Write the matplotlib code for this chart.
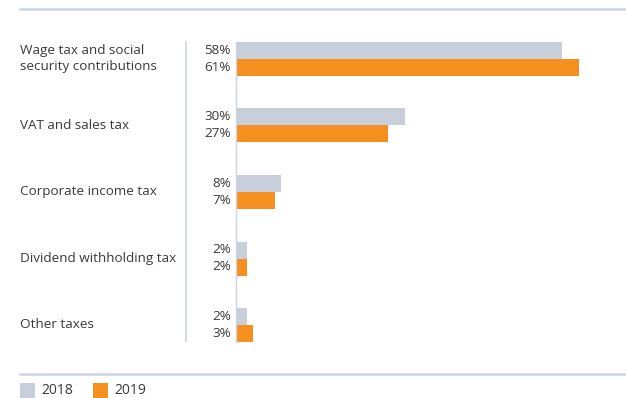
import matplotlib.pyplot as plt
from matplotlib.transforms import blended_transform_factory
from matplotlib.patches import Rectangle
from matplotlib.lines import Line2D

plt.rcParams['font.family'] = ['Open Sans', 'DejaVu Sans']

categories = ["Wage tax and social\nsecurity contributions", "VAT and sales tax",
              "Corporate income tax", "Dividend withholding tax", "Other taxes"]
share_2018 = [58, 30, 8, 2, 2]
share_2019 = [61, 27, 7, 2, 3]
years = ["2018", "2019"]

grey = "#c8cfdb"
orange = "#f58f1f"
rule = "#ccd4e1"
text_col = "#3a3a3a"

W, H = 626, 398
fig = plt.figure(figsize=(W / 100, H / 100), dpi=100)

# bar panel: zero line at x=236 px, rows from y=42 to y=342 px
ax = fig.add_axes([236 / W, 1 - 342 / H, (W - 236) / W, 300 / H])
bh = 17 / 66.5
ypos = list(range(len(categories)))
ax.barh([y - bh / 2 for y in ypos], share_2018, height=bh, color=grey)
ax.barh([y + bh / 2 for y in ypos], share_2019, height=bh, color=orange)
ax.set_xlim(0, (W - 236) / 5.62)
ax.set_ylim(4 + bh, -bh)
for s in ["top", "right", "bottom"]:
    ax.spines[s].set_visible(False)
ax.spines["left"].set_color(rule)
ax.spines["left"].set_linewidth(1)
ax.set_xticks([])
ax.set_yticks([])

fs = 9.7
tr = blended_transform_factory(fig.transFigure, ax.transData)
for y, cat, a, b in zip(ypos, categories, share_2018, share_2019):
    ax.text(20 / W, y, cat, transform=tr, ha="left", va="center",
            fontsize=fs, color=text_col, linespacing=1.3)
    ax.text(231 / W, y - bh / 2, f"{a}%", transform=tr, ha="right", va="center",
            fontsize=fs, color=text_col)
    ax.text(231 / W, y + bh / 2, f"{b}%", transform=tr, ha="right", va="center",
            fontsize=fs, color=text_col)

# divider between labels and bars
fig.add_artist(Line2D([186 / W, 186 / W], [1 - 42 / H, 1 - 341 / H],
                      color=rule, lw=1.2))
# top and bottom rules
for yy in (9, 374):
    fig.add_artist(Line2D([20 / W, 1], [1 - yy / H, 1 - yy / H], color=rule, lw=1.8))

# legend
for x0, col, lab in [(20, grey, years[0]), (93, orange, years[1])]:
    fig.add_artist(Rectangle((x0 / W, 1 - 398 / H), 15 / W, 15 / H,
                             transform=fig.transFigure, color=col, lw=0))
    fig.text((x0 + 21) / W, 1 - 390 / H, lab, ha="left", va="center",
             fontsize=fs + 0.3, color=text_col)

fig.savefig("out.png", dpi=100)
